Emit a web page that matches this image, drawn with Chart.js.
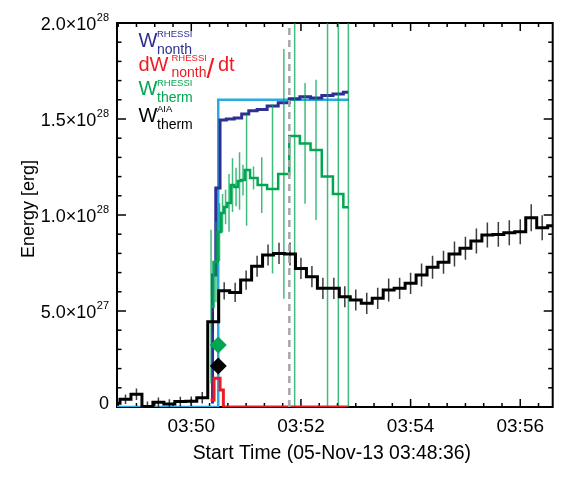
<!DOCTYPE html>
<html>
<head>
<meta charset="utf-8">
<script src="https://cdn.jsdelivr.net/npm/chart.js@4/dist/chart.umd.min.js"></script>
<style>
html,body{margin:0;padding:0;background:#fff;}
#wrap{width:581px;height:479px;position:relative;}
</style>
</head>
<body>
<div id="wrap"><canvas id="c" width="581" height="479"></canvas></div>
<script>
// ---------------- DATA (time in seconds after 03:48:36, energy in units of 1e27 erg) ----------------
const xAxisTitle = 'Start Time (05-Nov-13 03:48:36)';
const yAxisTitle = 'Energy [erg]';
const xTickValues = [84, 204, 324, 444];
const xTickLabels = ['03:50', '03:52', '03:54', '03:56'];
const yTickValues = [0, 5, 10, 15, 20];
const yTickMantissas = ['0', '5.0×10', '1.0×10', '1.5×10', '2.0×10'];
const yTickExponents = ['', '27', '28', '28', '28'];

// RHESSI non-thermal energy
const nonthTimes = [105.6, 108.9, 112.7, 118.2, 126.4, 135.5, 142.8, 151.0, 161.1, 172.9, 185.3, 197.1, 208.5, 220.5, 233.1, 244.9, 255.9];
const nonthValues = [0.26, 6.88, 11.41, 14.95, 15.0, 15.05, 15.26, 15.43, 15.5, 15.68, 15.85, 16.06, 16.16, 16.09, 16.23, 16.30, 16.39];

// its time derivative
const dWdtTimes = [105.2, 112.6, 118.4, 119.8, 255.9];
const dWdtValues = [0.36, 1.5, 0.89, 0, 0];

// cyan step curve
const cyanTimes = [0, 113.5, 113.5, 256.6];
const cyanValues = [0, 0, 16.0, 16.0];

// RHESSI thermal energy with errors
const thermTimes = [105.6, 111.0, 114.9, 118.2, 121.5, 125.3, 129.1, 133.0, 136.8, 140.6, 144.5, 152.1, 161.1, 172.9, 185.3, 197.1, 208.5, 220.5, 233.1, 244.9, 255.9];
const thermValues = [5.23, 7.55, 9.11, 10.1, 10.42, 10.63, 11.56, 11.46, 11.77, 11.82, 12.34, 11.93, 11.56, 11.35, 12.14, 14.11, 13.73, 13.39, 12.0, 11.09, 10.40];
const thermErrors = [4.0, 2.1, 1.5, 1.0, 0.9, 1.5, 1.4, 1.0, 1.5, 0.8, 2.9, 0.6, 1.45, 4.4, 6.5, 25, 3.15, 3.65, 25, 25, 25];

// AIA thermal energy with errors (12 s cadence)
const aiaTimes = [0, 12, 24, 36, 48, 60, 72, 84, 96, 108, 120, 132, 144, 156, 168, 180, 192, 204, 216, 228, 240, 252, 264, 276, 288, 300, 312, 324, 336, 348, 360, 372, 384, 396, 408, 420, 432, 444, 456, 468, 480];
const aiaValues = [0.2, 0.4, 0.66, 0.03, 0.25, 0.16, 0.28, 0.3, 0.48, 4.44, 6.05, 5.97, 6.61, 7.33, 7.92, 8.0, 7.97, 7.22, 6.79, 6.18, 6.18, 5.74, 5.57, 5.40, 5.66, 6.09, 6.18, 6.44, 6.88, 7.28, 7.54, 7.97, 8.27, 8.65, 8.96, 8.99, 9.08, 9.13, 9.86, 9.34, 9.44];
const aiaErrors = [0.25, 0.25, 0.3, 0.25, 0.25, 0.25, 0.25, 0.25, 0.3, 0.5, 0.45, 0.5, 0.5, 0.55, 0.55, 0.55, 0.6, 0.55, 0.55, 0.55, 0.55, 0.55, 0.55, 0.55, 0.55, 0.6, 0.55, 0.55, 0.6, 0.6, 0.6, 0.65, 0.6, 0.65, 0.65, 0.65, 0.65, 0.65, 0.7, 0.65, 0.65];

// markers
const markerTime = 113.5;
const markerThermRhessi = 3.23;
const markerThermAia = 2.14;
const peakTime = 191.3;

// legend entries
const legendEntries = [
  {main: 'W', sup: 'RHESSI', sub: 'nonth', tail: ''},
  {main: 'dW', sup: 'RHESSI', sub: 'nonth', tail: 'dt'},
  {main: 'W', sup: 'RHESSI', sub: 'therm', tail: ''},
  {main: 'W', sup: 'AIA', sub: 'therm', tail: ''}
];

// ---------------- STYLE ----------------
const NAVY = '#2d2f92', RED = '#ed1c24', GREEN = '#00a651', CYAN = '#29abe2', BLACK = '#000000';
const FONT = '"Liberation Sans", Arial, sans-serif';

const pts = (xs, ys) => xs.map((t, i) => ({x: t, y: ys[i]}));

const errorBarPlugin = {
  id: 'errorBars',
  beforeDatasetDraw(chart, args) {
    const ds = chart.data.datasets[args.index];
    if (!ds.errors) return;
    const {ctx, chartArea: a, scales: {x, y}} = chart;
    ctx.save();
    ctx.beginPath();
    ctx.rect(a.left, a.top, a.right - a.left, a.bottom - a.top);
    ctx.clip();
    ctx.strokeStyle = ds.errorColor;
    ctx.lineWidth = ds.errorWidth;
    ds.data.forEach((p, i) => {
      const e = ds.errors[i];
      const px = x.getPixelForValue(p.x);
      ctx.beginPath();
      ctx.moveTo(px, y.getPixelForValue(p.y + e));
      ctx.lineTo(px, y.getPixelForValue(p.y - e));
      ctx.stroke();
    });
    ctx.restore();
  }
};

const framePlugin = {
  id: 'frame',
  beforeDatasetsDraw(chart) {
    const {ctx, chartArea: a, scales: {x, y}} = chart;
    ctx.save();
    ctx.strokeStyle = '#000';
    ctx.lineWidth = 1.5;
    const seg = (x1, y1, x2, y2) => { ctx.beginPath(); ctx.moveTo(x1, y1); ctx.lineTo(x2, y2); ctx.stroke(); };
    for (let t = 4; t <= x.max; t += 20) {
      const px = x.getPixelForValue(t);
      const L = xTickValues.includes(t) ? 8 : 4;
      seg(px, a.bottom, px, a.bottom - L);
      seg(px, a.top, px, a.top + L);
    }
    for (let v = 0; v <= 20; v += 1) {
      const py = y.getPixelForValue(v);
      const L = (v % 5 === 0) ? 9 : 4.5;
      seg(a.left, py, a.left + L, py);
      seg(a.right, py, a.right - L, py);
    }
    ctx.lineWidth = 2;
    ctx.strokeRect(a.left, a.top, a.right - a.left, a.bottom - a.top);
    ctx.restore();
  }
};

const textPlugin = {
  id: 'texts',
  afterDraw(chart) {
    const {ctx, chartArea: a, scales: {x, y}} = chart;
    ctx.save();
    ctx.fillStyle = '#000';
    ctx.textBaseline = 'alphabetic';

    // x tick labels
    ctx.font = '19px ' + FONT;
    ctx.textAlign = 'center';
    xTickValues.forEach((t, i) => ctx.fillText(xTickLabels[i], x.getPixelForValue(t), 432));
    // x title
    ctx.font = '19.4px ' + FONT;
    ctx.fillText(xAxisTitle, (a.left + a.right) / 2 - 3, 459);

    // y tick labels
    const rightEdge = 109;
    yTickValues.forEach((v, i) => {
      const py = y.getPixelForValue(v);
      const m = yTickMantissas[i], e = yTickExponents[i];
      ctx.font = '11px ' + FONT;
      const we = e ? ctx.measureText(e).width : 0;
      ctx.font = '18px ' + FONT;
      const wm = ctx.measureText(m).width;
      ctx.textAlign = 'left';
      if (e) {
        ctx.fillText(m, rightEdge - we - wm - 0.5, py + 6.5);
        ctx.font = '11px ' + FONT;
        ctx.fillText(e, rightEdge - we, py - 2.5);
      } else {
        ctx.fillText(m, rightEdge - wm, py + 1.5);
      }
    });

    // y title
    ctx.save();
    ctx.font = '18px ' + FONT;
    ctx.translate(34, 209);
    ctx.rotate(-Math.PI / 2);
    ctx.textAlign = 'center';
    ctx.fillText(yAxisTitle, 0, 0);
    ctx.restore();

    // legend (text with super/subscripts)
    const colors = [NAVY, RED, GREEN, BLACK];
    const baselines = [46.7, 70.5, 95, 121.7];
    const scriptX = [157, 171.5, 157, 157];
    ctx.textAlign = 'left';
    legendEntries.forEach((en, i) => {
      const yb = baselines[i];
      ctx.fillStyle = colors[i];
      ctx.font = '20px ' + FONT;
      ctx.fillText(en.main, 138.5, yb);
      const xs = scriptX[i];
      ctx.font = '9.5px ' + FONT;
      ctx.fillText(en.sup, xs, yb - 9.4);
      ctx.font = '14px ' + FONT;
      ctx.fillText(en.sub, xs, yb + 6.8);
      if (en.tail) {
        ctx.font = '28px ' + FONT;
        ctx.fillText('/', 206.5, yb + 7.5);
        ctx.font = '20px ' + FONT;
        ctx.fillText(en.tail, 218, yb);
      }
    });
    ctx.restore();
  }
};

new Chart(document.getElementById('c'), {
  type: 'line',
  data: {
    datasets: [
      {label: 'marker RHESSI therm', type: 'scatter', data: [{x: markerTime, y: markerThermRhessi}],
        pointStyle: 'rectRot', pointRadius: 8.5, backgroundColor: GREEN, borderColor: GREEN, borderWidth: 0, showLine: false},
      {label: 'marker AIA therm', type: 'scatter', data: [{x: markerTime, y: markerThermAia}],
        pointStyle: 'rectRot', pointRadius: 8.5, backgroundColor: BLACK, borderColor: BLACK, borderWidth: 0, showLine: false},
      {label: 'peak', data: [{x: peakTime, y: 0}, {x: peakTime, y: 20}],
        borderColor: '#a6a6a6', borderWidth: 2.5, borderDash: [7, 5], pointRadius: 0},
      {label: 'dW_nonth/dt', data: pts(dWdtTimes, dWdtValues), stepped: 'middle',
        borderColor: RED, borderWidth: 3, pointRadius: 0},
      {label: 'W_therm AIA', data: pts(aiaTimes, aiaValues), stepped: 'middle',
        borderColor: BLACK, borderWidth: 3, pointRadius: 0,
        errors: aiaErrors, errorColor: 'rgba(40,40,40,0.9)', errorWidth: 1.5},
      {label: 'W_therm RHESSI', data: pts(thermTimes, thermValues), stepped: 'middle',
        borderColor: GREEN, borderWidth: 2.5, pointRadius: 0,
        errors: thermErrors, errorColor: 'rgba(0,166,81,0.75)', errorWidth: 1.5},
      {label: 'W_nonth RHESSI', data: pts(nonthTimes, nonthValues), stepped: 'middle',
        borderColor: NAVY, borderWidth: 3, pointRadius: 0},
      {label: 'W_nonth step', data: pts(cyanTimes, cyanValues),
        borderColor: CYAN, borderWidth: 2.5, pointRadius: 0}
    ]
  },
  options: {
    responsive: false,
    animation: false,
    events: [],
    layout: {padding: {left: 117, right: 28.3, top: 23, bottom: 72}},
    scales: {
      x: {type: 'linear', min: 2.7, max: 479.5, display: false},
      y: {type: 'linear', min: 0, max: 20, display: false}
    },
    plugins: {legend: {display: false}, tooltip: {enabled: false}, title: {display: false}}
  },
  plugins: [framePlugin, errorBarPlugin, textPlugin]
});
</script>
</body>
</html>
